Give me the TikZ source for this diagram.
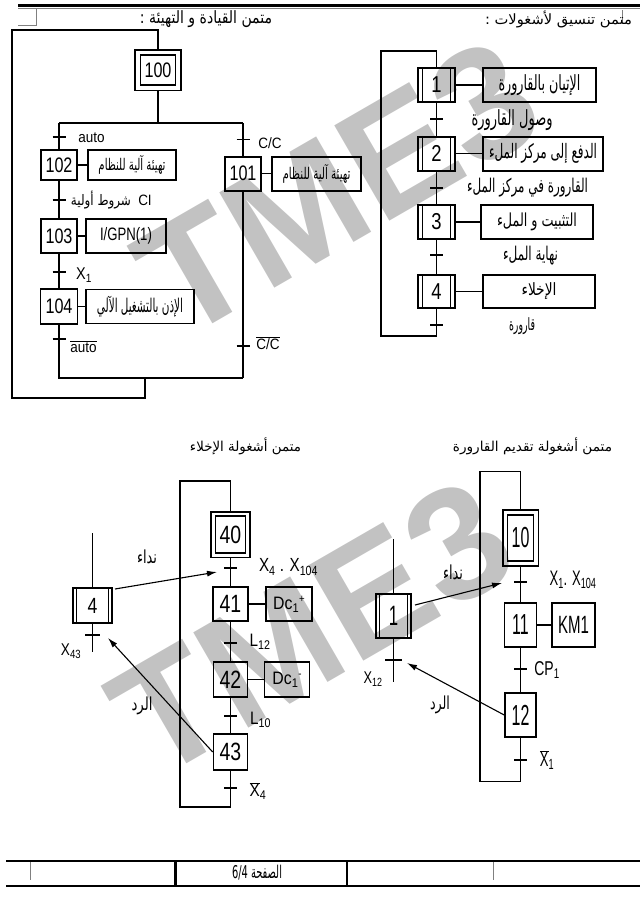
\documentclass[tikz,border=0pt]{standalone}
\usepackage{fontspec}
\usepackage{graphicx}
\setmainfont{Liberation Sans}
\newfontfamily\arabicfont[Script=Arabic]{DejaVu Sans}
\TeXXeTstate=1
\usetikzlibrary{arrows.meta,calc}
\newcommand\TX[3]{\scalebox{#2}[1]{\fontsize{#1}{#1}\selectfont #3}}
\newcommand\AR[3]{\resizebox*{#1pt}{#2pt}{\arabicfont #3}}
\newcommand\dblv[2]{\draw[line width=0.8pt] ([xshift=#2pt]#1.north west) -- ([xshift=#2pt]#1.south west);
  \draw[line width=0.8pt] ([xshift=-#2pt]#1.north east) -- ([xshift=-#2pt]#1.south east);}
\newcommand\outbox[2]{\draw[line width=1.6pt] ([shift={(-#2,-#2)}]#1.north west) rectangle ([shift={(#2,#2)}]#1.south east);}
\newcommand\trans[3]{\coordinate (#1) at #2; \draw[tk] ([xshift=-#3pt]#1) -- ([xshift=#3pt]#1);}
\begin{document}
\begin{tikzpicture}[x=1pt,y=-1pt,
  box/.style={draw,line width=1.6pt,inner sep=0pt,align=center},
  lnk/.style={line width=1.4pt},
  thin/.style={line width=1pt},
  tk/.style={line width=1.8pt},
  arr/.style={line width=1.1pt,-{Latex[length=10pt,width=6pt]}},
  wm/.style={rotate=30,text=black!24,font=\bfseries\fontsize{160}{160}\selectfont},
  lbl/.style={inner sep=0pt}]
\useasboundingbox (0,0) rectangle (640,897);
% watermarks
\node[wm] (wm1) at (338,188) {TME3};
\node[wm] (wm2) at (312,628) {TME3};
% page header
\draw[line width=3pt] (18,5.5) -- (640,5.5);
\draw[line width=0.5pt,black!50] (18,8.7) -- (640,8.7);
\draw[line width=0.6pt,black!50] (18,25) -- (36,25) -- (36,9);
\draw[line width=0.5pt,black!50] (622,10) -- (622,23);
\node[lbl] (h1) at (206,19) {\AR{132}{17}{\beginR متمن القيادة و التهيئة :\endR}};
\node[lbl] (h2) at (558.5,19) {\AR{147}{17}{\beginR متمن تنسيق لأشغولات :\endR}};
% ===== top-left grafcet
\node[box,minimum width=35pt,minimum height=30pt] (s100) at (158,70) {\TX{21}{0.77}{100}};
\outbox{s100}{4.5}
\coordinate (lp1) at (158,30); \coordinate (lp2) at (12,30); \coordinate (lp3) at (12,398);
\coordinate (lp4) at (145,398); \coordinate (lp5) at (145,378);
\draw[lnk] ($(s100.north)+(0,-4.5)$) -- (lp1) -- (lp2) -- (lp3) -- (lp4) -- (lp5);
\coordinate (j100) at (158,123); \coordinate (bL) at (59,123); \coordinate (bR) at (243,123);
\draw[lnk] ($(s100.south)+(0,4.5)$) -- (j100);
\draw[lnk] (bL) -- (bR);
\node[box,minimum width=36pt,minimum height=30pt] (s102) at (59,165) {\TX{21}{0.77}{102}};
\node[box,minimum width=88pt,minimum height=30pt] (a102) at (132,165) {\AR{67}{19}{\beginR تهيئة آلية للنظام\endR}};
\node[box,minimum width=36pt,minimum height=34.5pt] (s103) at (59,236) {\TX{21}{0.77}{103}};
\node[box,minimum width=80pt,minimum height=34pt] (a103) at (126,236) {\TX{18}{0.73}{I/GPN(1)}};
\node[box,minimum width=37pt,minimum height=35pt] (s104) at (59,306.5) {\TX{21}{0.77}{104}};
\node[box,minimum width=108pt,minimum height=34pt] (a104) at (140,306.5) {\AR{86}{21}{\beginR الإذن بالتشغيل الآلي\endR}};
\node[box,minimum width=36pt,minimum height=34pt] (s101) at (243,173.7) {\TX{21}{0.77}{101}};
\node[box,minimum width=89pt,minimum height=34pt] (a101) at (316.5,173.7) {\AR{68}{19}{\beginR تهيئة آلية للنظام\endR}};
\coordinate (jL) at (59,378); \coordinate (jR) at (243,378);
\draw[lnk] (bL) -- (s102); \draw[lnk] (s102) -- (s103); \draw[lnk] (s103) -- (s104);
\draw[lnk] (s104) -- (jL) -- (jR); \draw[lnk] (bR) -- (s101); \draw[lnk] (s101) -- (jR);
\draw[lnk] (s102) -- (a102); \draw[lnk] (s103) -- (a103); \draw[lnk] (s104) -- (a104); \draw[lnk] (s101) -- (a101);
\trans{t1}{(59,137)}{6.5} \trans{t2}{(59,200)}{6.5} \trans{t3}{(59,272)}{6.5} \trans{t4}{(59,339)}{6.5}
\trans{t5}{(243,139.5)}{6.5} \trans{t6}{(243,345.7)}{6.5}
\node[lbl] (l1) at (91.5,137.5) {\TX{15}{0.9}{auto}};
\node[lbl] (l2) at (270,143) {\TX{15}{0.9}{C/C}};
\node[lbl] (l3a) at (101,200) {\AR{60}{18}{\beginR شروط أولية\endR}};
\node[lbl] (l3b) at (145,200) {\TX{15}{0.9}{CI}};
\node[lbl] (l4) at (84,275) {\TX{17}{0.85}{X\textsubscript{1}}};
\node[lbl] (l5) at (83.5,347) {\TX{15}{0.9}{$\overline{\mbox{auto}}$}};
\node[lbl] (l6) at (268,343) {\TX{15}{0.9}{$\overline{\mbox{C/C}}$}};
% ===== top-right grafcet
\node[box,minimum width=37pt,minimum height=34pt] (sa1) at (436.5,85) {\TX{23}{0.8}{1}};
\node[box,minimum width=113pt,minimum height=34pt] (aa1) at (539.5,85) {\AR{82}{21}{\beginR الإتيان بالقارورة\endR}};
\node[box,minimum width=37pt,minimum height=34pt] (sa2) at (436.5,153.7) {\TX{23}{0.8}{2}};
\node[box,minimum width=120pt,minimum height=34pt] (aa2) at (543,153.7) {\AR{108}{20}{\beginR الدفع إلى مركز الملء\endR}};
\node[box,minimum width=37pt,minimum height=34pt] (sa3) at (436.5,222) {\TX{23}{0.8}{3}};
\node[box,minimum width=112pt,minimum height=34pt] (aa3) at (537,222) {\AR{80}{18}{\beginR التثبيت و الملء\endR}};
\node[box,minimum width=37pt,minimum height=33pt] (sa4) at (436.5,291.5) {\TX{23}{0.8}{4}};
\node[box,minimum width=112pt,minimum height=33pt] (aa4) at (539,291.5) {\AR{35}{17}{\beginR الإخلاء\endR}};
\dblv{sa1}{5} \dblv{sa2}{5} \dblv{sa3}{5} \dblv{sa4}{5}
\draw[lnk] (sa1) -- (aa1); \draw[lnk] (sa2) -- (aa2); \draw[lnk] (sa3) -- (aa3); \draw[lnk] (sa4) -- (aa4);
\draw[lnk] (sa1) -- (sa2); \draw[lnk] (sa2) -- (sa3); \draw[lnk] (sa3) -- (sa4);
\coordinate (rl1) at (436.5,336); \coordinate (rl2) at (381,336); \coordinate (rl3) at (381,51); \coordinate (rl4) at (436.5,51);
\draw[lnk] (sa4.south) -- (rl1) -- (rl2) -- (rl3) -- (rl4) -- (sa1.north);
\trans{ta1}{(436.5,118.7)}{6.5} \trans{ta2}{(436.5,187.7)}{6.5} \trans{ta3}{(436.5,255)}{6.5} \trans{ta4}{(436.5,325)}{6.5}
\node[lbl] (la1) at (512,120) {\AR{81}{21}{\beginR وصول القارورة\endR}};
\node[lbl] (la2) at (527.5,188) {\AR{121}{19}{\beginR القارورة في مركز الملء\endR}};
\node[lbl] (la3) at (530.5,256) {\AR{55}{19}{\beginR نهاية الملء\endR}};
\node[lbl] (la4) at (522,326) {\AR{26}{17}{\beginR قارورة\endR}};
% ===== headers bottom
\node[lbl] (h3) at (245.5,446) {\AR{111}{17}{\beginR متمن أشغولة الإخلاء\endR}};
\node[lbl] (h4) at (532.5,446) {\AR{159}{17}{\beginR متمن أشغولة تقديم القارورة\endR}};
% ===== bottom-left grafcet
\node[box,minimum width=30pt,minimum height=37pt] (sb40) at (230.5,534.5) {\TX{25}{0.78}{40}};
\outbox{sb40}{3.5}
\node[box,minimum width=35pt,minimum height=34pt] (sb41) at (230.5,604) {\TX{25}{0.78}{41}};
\node[box,minimum width=46pt,minimum height=34pt] (ab41) at (289,604) {\TX{18}{0.88}{Dc\textsubscript{1}\raisebox{7pt}{\fontsize{11}{11}\selectfont +}}};
\node[box,minimum width=34pt,minimum height=35pt] (sb42) at (230.5,679.5) {\TX{25}{0.78}{42}};
\node[box,minimum width=45pt,minimum height=35pt] (ab42) at (287,679.5) {\TX{18}{0.88}{Dc\textsubscript{1}\raisebox{7pt}{\fontsize{11}{11}\selectfont -}}};
\node[box,minimum width=34pt,minimum height=36pt] (sb43) at (230.5,752) {\TX{25}{0.78}{43}};
\draw[lnk] ($(sb40.south)+(0,3.5)$) -- (sb41); \draw[lnk] (sb41) -- (sb42); \draw[lnk] (sb42) -- (sb43);
\draw[lnk] (sb41) -- (ab41); \draw[lnk] (sb42) -- (ab42);
\coordinate (bl1) at (230.5,807); \coordinate (bl2) at (180,807); \coordinate (bl3) at (180,481); \coordinate (bl4) at (230.5,481);
\draw[lnk] (sb43.south) -- (bl1) -- (bl2) -- (bl3) -- (bl4) -- ($(sb40.north)+(0,-3.5)$);
\trans{tb1}{(230.5,568)}{6.5} \trans{tb2}{(230.5,643)}{6.5} \trans{tb3}{(230.5,716)}{6.5} \trans{tb4}{(230.5,788)}{6.5}
\node[lbl] (lb1) at (288.5,567) {\TX{19}{0.8}{X\textsubscript{4} . X\textsubscript{104}}};
\node[lbl] (lb2) at (260,642) {\TX{18}{0.85}{L\textsubscript{12}}};
\node[lbl] (lb3) at (260.5,720) {\TX{18}{0.85}{L\textsubscript{10}}};
\node[lbl] (lb4) at (258,791) {\TX{18}{0.85}{$\overline{\mbox{X}}$\textsubscript{4}}};
% step 4 fragment
\node[box,minimum width=39pt,minimum height=35pt] (sc4) at (92.5,605.5) {\TX{22}{0.8}{4}};
\dblv{sc4}{4}
\coordinate (c4top) at (92.5,533); \coordinate (c4bot) at (92.5,652);
\draw[thin] (c4top) -- (sc4.north); \draw[thin] (sc4.south) -- (c4bot);
\trans{tc4}{(92.5,635)}{7.5}
\node[lbl] (lc4) at (71,651) {\TX{17}{0.8}{X\textsubscript{43}}};
\coordinate (c4out) at (115,589); \coordinate (call40) at (217,572); \coordinate (ret4) at (108,638);
\draw[arr] (c4out) -- (call40);
\draw[arr] (sb43.west) -- (ret4);
\node[lbl] (nd1) at (147,557) {\AR{20}{14}{\beginR نداء\endR}};
\node[lbl] (rd1) at (142,706) {\AR{21}{18}{\beginR الرد\endR}};
% ===== bottom-right grafcet
\node[box,minimum width=26pt,minimum height=46pt] (sd10) at (520.5,538) {\TX{29}{0.55}{10}};
\outbox{sd10}{4}
\node[box,minimum width=32pt,minimum height=44pt] (sd11) at (520.5,625) {\TX{29}{0.55}{11}};
\node[box,minimum width=43pt,minimum height=44pt] (ad11) at (573.5,625) {\TX{25}{0.6}{KM1}};
\node[box,minimum width=31pt,minimum height=44pt] (sd12) at (520.5,715) {\TX{29}{0.55}{12}};
\draw[lnk] ($(sd10.south)+(0,4)$) -- (sd11); \draw[lnk] (sd11) -- (sd12); \draw[lnk] (sd11) -- (ad11);
\coordinate (br1) at (520.5,781.7); \coordinate (br2) at (480,781.7); \coordinate (br3) at (480,471.7); \coordinate (br4) at (520.5,471.7);
\draw[lnk] (sd12.south) -- (br1) -- (br2) -- (br3) -- (br4) -- ($(sd10.north)+(0,-4)$);
\trans{td1}{(520.5,581.7)}{6.5} \trans{td2}{(520.5,669)}{6.5} \trans{td3}{(520.5,760)}{6.5}
\node[lbl] (ld1) at (573,580) {\TX{21}{0.62}{X\textsubscript{1}. X\textsubscript{104}}};
\node[lbl] (ld2) at (547,670) {\TX{20}{0.7}{CP\textsubscript{1}}};
\node[lbl] (ld3) at (547,760) {\TX{21}{0.62}{$\overline{\mbox{X}}$\textsubscript{1}}};
% step 1 fragment
\node[box,minimum width=35pt,minimum height=44pt] (se1) at (393.5,616) {\TX{28}{0.6}{1}};
\dblv{se1}{4}
\coordinate (e1top) at (393.5,539); \coordinate (e1bot) at (393.5,682);
\draw[thin] (e1top) -- (se1.north); \draw[thin] (se1.south) -- (e1bot);
\trans{te1}{(393.5,660)}{8.5}
\node[lbl] (le1) at (373,679) {\TX{17}{0.75}{X\textsubscript{12}}};
\coordinate (e1out) at (415,605); \coordinate (call10) at (502,583); \coordinate (ret1) at (407,663);
\draw[arr] (e1out) -- (call10);
\draw[arr] (sd12.west) -- (ret1);
\node[lbl] (nd2) at (453,572) {\AR{20}{15}{\beginR نداء\endR}};
\node[lbl] (rd2) at (440,705) {\AR{20}{18}{\beginR الرد\endR}};
% ===== footer
\draw[line width=2.8pt] (6,861) -- (640,861);
\draw[line width=2.8pt] (6,886) -- (640,886);
\draw[line width=2.8pt] (175.5,861) -- (175.5,886);
\draw[line width=2.8pt] (347,861) -- (347,886);
\draw[line width=0.6pt,black!50] (30,862) -- (30,880);
\draw[line width=0.6pt,black!50] (493,862) -- (493,880);
\node[lbl] (ft) at (257,873) {\AR{50}{15}{\beginR الصفحة \beginL 6/4\endL\endR}};
\end{tikzpicture}
\end{document}
